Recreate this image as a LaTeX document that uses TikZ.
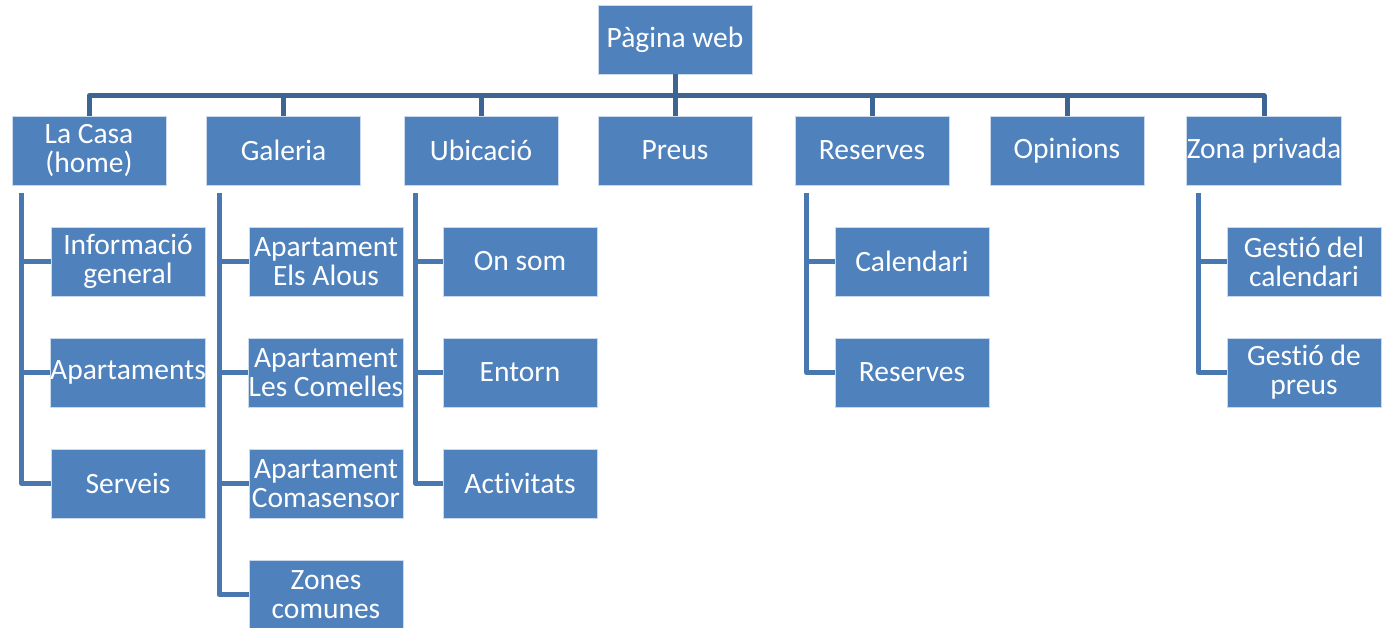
\documentclass[tikz,border=0pt]{standalone}
\usepackage{fontspec}
\setmainfont[Ligatures=NoCommon]{Carlito}
\usetikzlibrary{calc, positioning}
\definecolor{boxblue}{HTML}{4F81BD}
\definecolor{busblue}{HTML}{3D6594}
\definecolor{branchblue}{HTML}{4977B0}
\tikzset{
    pagebox/.style={draw=white!70!boxblue, line width=0.8pt, fill=boxblue, text=white,
        minimum width=154pt, minimum height=69pt, inner sep=0pt, align=center,
        font=\fontsize{29.5}{29}\selectfont},
    busline/.style={draw=busblue, line width=5pt, line join=round},
    branchline/.style={draw=branchblue, line width=5pt, line join=round}
}

\begin{document}
\begin{tikzpicture}[x=1pt, y=1pt]
    \useasboundingbox (0,0) rectangle (1382,-628);
    \coordinate (bus) at (0,-96);
    % top
    \node[pagebox] (web) at (675,-39.5) {Pàgina web};
    % first level
    \node[pagebox] (casa) at (89,-150.5) {La Casa\\(home)};
    \node[pagebox] (galeria) at (283.5,-150.5) {Galeria};
    \node[pagebox] (ubicacio) at (481,-150.5) {Ubicació};
    \node[pagebox] (preus) at (675,-150.5) {Preus};
    \node[pagebox] (reserves) at (872,-150.5) {Reserves};
    \node[pagebox] (opinions) at (1067,-150.5) {Opinions};
    \node[pagebox] (zona) at (1264,-150.5) {Zona privada};
    % second level
    \node[pagebox] (info) at (128,-261.5) {Informació\\general};
    \node[pagebox] (apts) at (128,-372.5) {Apartaments};
    \node[pagebox] (serveis) at (128,-483.5) {Serveis};
    \node[pagebox] (alous) at (326,-261.5) {Apartament\\Els Alous};
    \node[pagebox] (comelles) at (326,-372.5) {Apartament\\Les Comelles};
    \node[pagebox] (comasensor) at (326,-483.5) {Apartament\\Comasensor};
    \node[pagebox] (comunes) at (326,-594.5) {Zones\\comunes};
    \node[pagebox] (onsom) at (520,-261.5) {On som};
    \node[pagebox] (entorn) at (520,-372.5) {Entorn};
    \node[pagebox] (activitats) at (520,-483.5) {Activitats};
    \node[pagebox] (calendari) at (912,-261.5) {Calendari};
    \node[pagebox] (reserves2) at (912,-372.5) {Reserves};
    \node[pagebox] (gcal) at (1304,-261.5) {Gestió del\\calendari};
    \node[pagebox] (gpreus) at (1304,-372.5) {Gestió de\\preus};
    % bus
    \draw[busline] (web.south) -- (web.south |- bus);
    \draw[busline] (casa.north) |- (zona.north |- bus) -- (zona.north);
    \draw[busline] (galeria.north) -- (galeria.north |- bus);
    \draw[busline] (ubicacio.north) -- (ubicacio.north |- bus);
    \draw[busline] (preus.north) -- (preus.north |- bus);
    \draw[busline] (reserves.north) -- (reserves.north |- bus);
    \draw[busline] (opinions.north) -- (opinions.north |- bus);
    % branches
    \coordinate (t1) at ($(casa.south west)+(10,-8)$);
    \coordinate (t2) at ($(galeria.south west)+(13,-8)$);
    \coordinate (t3) at ($(ubicacio.south west)+(12,-8)$);
    \coordinate (t5) at ($(reserves.south west)+(12,-8)$);
    \coordinate (t7) at ($(zona.south west)+(12,-8)$);
    \draw[branchline] (t1) |- (serveis.west);
    \draw[branchline] (t1 |- info.west) -- (info.west);
    \draw[branchline] (t1 |- apts.west) -- (apts.west);
    \draw[branchline] (t2) |- (comunes.west);
    \draw[branchline] (t2 |- alous.west) -- (alous.west);
    \draw[branchline] (t2 |- comelles.west) -- (comelles.west);
    \draw[branchline] (t2 |- comasensor.west) -- (comasensor.west);
    \draw[branchline] (t3) |- (activitats.west);
    \draw[branchline] (t3 |- onsom.west) -- (onsom.west);
    \draw[branchline] (t3 |- entorn.west) -- (entorn.west);
    \draw[branchline] (t5) |- (reserves2.west);
    \draw[branchline] (t5 |- calendari.west) -- (calendari.west);
    \draw[branchline] (t7) |- (gpreus.west);
    \draw[branchline] (t7 |- gcal.west) -- (gcal.west);
\end{tikzpicture}
\end{document}
